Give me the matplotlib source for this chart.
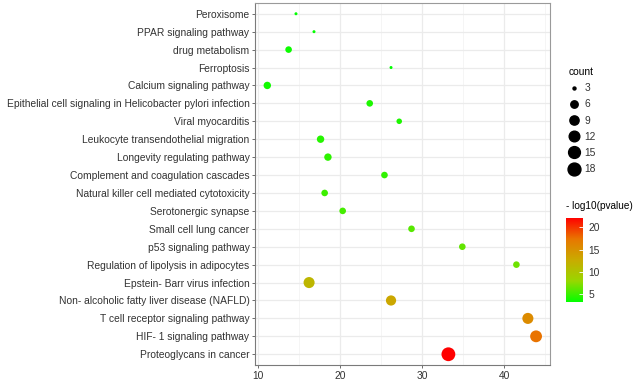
import numpy as np
import matplotlib
matplotlib.use('Agg')
import matplotlib.pyplot as plt
from matplotlib.colors import LinearSegmentedColormap
from matplotlib.lines import Line2D

# Datos de la figura (de arriba hacia abajo)
pathways = [
    'Peroxisome',
    'PPAR signaling pathway',
    'drug metabolism',
    'Ferroptosis',
    'Calcium signaling pathway',
    'Epithelial cell signaling in Helicobacter pylori infection',
    'Viral myocarditis',
    'Leukocyte transendothelial migration',
    'Longevity regulating pathway',
    'Complement and coagulation cascades',
    'Natural killer cell mediated cytotoxicity',
    'Serotonergic synapse',
    'Small cell lung cancer',
    'p53 signaling pathway',
    'Regulation of lipolysis in adipocytes',
    'Epstein- Barr virus infection',
    'Non- alcoholic fatty liver disease (NAFLD)',
    'T cell receptor signaling pathway',
    'HIF- 1 signaling pathway',
    'Proteoglycans in cancer',
]
x_values = [14.6, 16.8, 13.7, 26.2, 11.1, 23.6, 27.2, 17.6, 18.5, 25.4,
            18.1, 20.3, 28.7, 34.9, 41.5, 16.2, 26.2, 42.9, 43.9, 33.2]
counts = [3, 3, 5, 3, 6, 5, 4, 6, 6, 5,
          5, 5, 5, 5, 5, 13, 11, 13, 15, 21]
neglog_p = [3.1, 3.2, 3.5, 3.1, 3.6, 4.0, 4.0, 4.3, 4.5, 4.6,
            5.0, 5.3, 5.8, 6.2, 6.5, 11.5, 13.0, 15.5, 17.5, 22.2]

size_breaks = [3, 6, 9, 12, 15, 18]
color_ticks = [5, 10, 15, 20]

DPI = 100
TXT = '#333333'
FS = 7.4


def diam_pt(c):
    # diámetro en pixeles -> puntos
    px = 3.0 + 2.55 * np.sqrt(np.asarray(c, dtype=float) - 3.0)
    return px * 72.0 / DPI


# gradiente verde -> rojo (interpolado en Lab, como ggplot)
cmap = LinearSegmentedColormap.from_list('gr', [
    (0.00, (0/255, 255/255, 0)),
    (0.25, (152/255, 215/255, 0)),
    (0.50, (201/255, 171/255, 0)),
    (0.75, (232/255, 118/255, 0)),
    (1.00, (255/255, 0, 0)),
])

plt.rcParams['font.family'] = ['Liberation Sans', 'DejaVu Sans']

fig = plt.figure(figsize=(6.35, 3.83), dpi=DPI)
ax = fig.add_axes([255/635, 1 - 365/383, 295/635, 362/383])

n = len(pathways)
ypos = np.arange(n)[::-1] + 1
sc = ax.scatter(x_values, ypos, s=diam_pt(counts) ** 2, c=neglog_p, cmap=cmap,
                vmin=3.06, vmax=22.2, edgecolors='none', zorder=3)

ax.set_ylim(0.4, n + 0.6)
ax.set_xlim(9.6, 45.6)
ax.set_yticks(ypos)
ax.set_yticklabels(pathways)
ax.set_xticks([10, 20, 30, 40])
ax.set_xticks([15, 25, 35, 45], minor=True)
ax.grid(True, which='major', color='#EBEBEB', linewidth=0.9, zorder=0)
ax.grid(True, which='minor', axis='x', color='#F4F4F4', linewidth=0.6, zorder=0)
ax.set_axisbelow(True)
ax.tick_params(axis='both', which='major', labelsize=FS, colors='#555555',
               labelcolor=TXT, length=2.5, width=0.6, pad=1.5)
ax.tick_params(axis='x', which='minor', length=0)
for side in ['top', 'right']:
    ax.spines[side].set_color('#9A9A9A')
    ax.spines[side].set_linewidth(0.8)
for side in ['left', 'bottom']:
    ax.spines[side].set_color('#7A7A7A')
    ax.spines[side].set_linewidth(0.8)

# leyenda de tamaño
handles = [Line2D([], [], linestyle='none', marker='o', color='black',
                  markersize=float(diam_pt(b)), label=str(b)) for b in size_breaks]
leg = fig.legend(handles=handles, title='count', loc='upper left',
                 bbox_to_anchor=(563/635, 1 - 62/383), frameon=False,
                 fontsize=FS, title_fontsize=FS, labelspacing=0.6,
                 handletextpad=0.4, handlelength=1.2, borderpad=0,
                 alignment='left')
for t in leg.get_texts():
    t.set_color(TXT)

# barra de color
cax = fig.add_axes([566/635, 1 - 302.3/383, 17/635, 84.6/383])
cb = fig.colorbar(sc, cax=cax)
cb.outline.set_visible(False)
cb.set_ticks(color_ticks)
cax.tick_params(labelsize=FS, labelcolor=TXT, colors='white', length=3,
                width=0.6, direction='in', pad=4)
cax.text(0.0, 1.08, '- log10(pvalue)', transform=cax.transAxes,
         fontsize=FS - 0.2, color='black', ha='left', va='bottom')

fig.savefig('out.png', dpi=DPI)
